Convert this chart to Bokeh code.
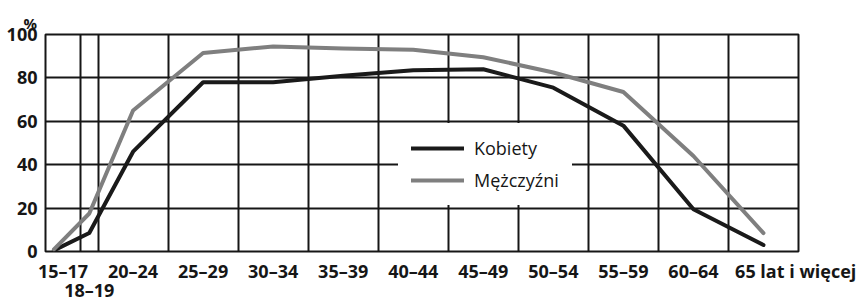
from bokeh.plotting import figure
from bokeh.models import FixedTicker, Range1d, Legend, LegendItem, ColumnDataSource
from bokeh.embed import file_html
from bokeh.resources import INLINE

# ---- data ----
categories = ["15–17", "18–19", "20–24", "25–29", "30–34", "35–39", "40–44",
              "45–49", "50–54", "55–59", "60–64", "65 lat i więcej"]
# relative column widths (one 5-year group = 1)
col_widths = [0.5, 0.25, 1, 1, 1, 1, 1, 1, 1, 1, 1, 1]
kobiety = [0.5, 8.5, 46, 78, 78, 81, 83.5, 84, 75.5, 58, 19.5, 3]
mezczyzni = [1, 17.5, 65, 91.5, 94.5, 93.5, 93, 89.5, 82.5, 73.5, 44, 8.5]
y_ticks = [0, 20, 40, 60, 80, 100]

# ---- derived positions ----
edges = [0.0]
for w in col_widths:
    edges.append(edges[-1] + w)
centers = [(a + b) / 2 for a, b in zip(edges[:-1], edges[1:])]
point_x = list(centers)
point_x[0] = edges[0] + 0.12
label_x = list(centers)
label_x[-1] = edges[-2] + 0.96

FONT = "Open Sans"
INK = "#161616"

p = figure(frame_width=753, frame_height=217,
           x_range=Range1d(edges[0], edges[-1]), y_range=Range1d(0, 100),
           output_backend="svg", toolbar_location=None,
           min_border_left=45, min_border_right=59,
           min_border_top=34, min_border_bottom=0)

p.outline_line_color = INK
p.outline_line_width = 2
p.background_fill_color = "white"

# grid
p.xgrid.ticker = FixedTicker(ticks=edges)
p.ygrid.ticker = FixedTicker(ticks=y_ticks)
for g in (p.xgrid, p.ygrid):
    g.grid_line_color = INK
    g.grid_line_width = 2
    g.grid_line_alpha = 1

# axes
xa = p.xaxis[0]
xa.ticker = FixedTicker(ticks=label_x)
overrides = {}
for x, c in zip(label_x, categories):
    overrides[x] = c
overrides[label_x[1]] = "\n" + categories[1]
xa.major_label_overrides = overrides
xa.axis_line_color = None
xa.major_tick_line_color = None
xa.minor_tick_line_color = None
xa.major_tick_out = 0
xa.major_tick_in = 0
xa.major_label_standoff = 7
xa.major_label_text_font = FONT
xa.major_label_text_font_style = "bold"
xa.major_label_text_font_size = "18px"
xa.major_label_text_line_height = 0.8
xa.major_label_text_color = INK

ya = p.yaxis[0]
ya.ticker = FixedTicker(ticks=y_ticks)
ya.axis_line_color = None
ya.major_tick_line_color = None
ya.minor_tick_line_color = None
ya.major_tick_out = 0
ya.major_tick_in = 0
ya.major_label_standoff = 8
ya.major_label_text_font = FONT
ya.major_label_text_font_style = "bold"
ya.major_label_text_font_size = "18px"
ya.major_label_text_color = INK

# title as "%"
p.title.text = "%"
p.title.align = "left"
p.title.vertical_align = "top"
p.title.offset = -22
p.title.text_font = FONT
p.title.text_font_style = "bold"
p.title.text_font_size = "15px"
p.title.text_color = INK
p.title.standoff = 0

src = ColumnDataSource(dict(x=point_x, k=kobiety, m=mezczyzni))
rk = p.line("x", "k", source=src, line_color="#1a1a1a", line_width=4, line_join="round", line_cap="round")
rm = p.line("x", "m", source=src, line_color="#7f7f7f", line_width=4, line_join="round", line_cap="round")

legend = Legend(items=[LegendItem(label="Kobiety", renderers=[rk]),
                       LegendItem(label="Mężczyźni", renderers=[rm])],
                location=(353, 46))
legend.background_fill_color = "white"
legend.background_fill_alpha = 1
legend.border_line_alpha = 0
legend.padding = 13
legend.spacing = 8
legend.glyph_width = 53
legend.glyph_height = 24
legend.label_height = 24
legend.label_standoff = 10
legend.label_text_font = FONT
legend.label_text_font_size = "18px"
legend.label_text_color = INK
legend.margin = 0
p.add_layout(legend, "center")

open("out.html", "w").write(file_html(p, INLINE))
